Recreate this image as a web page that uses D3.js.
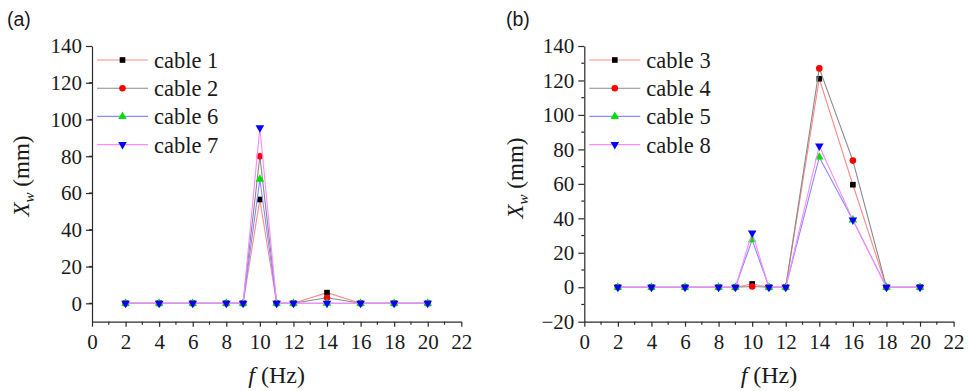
<!DOCTYPE html>
<html>
<head>
<meta charset="utf-8">
<script src="https://cdn.jsdelivr.net/npm/d3@7"></script>
</head>
<body style="margin:0;background:#fff">
<svg id="chart" width="969" height="391" font-family="'Liberation Serif', serif"></svg>
<script>
// frequencies (Hz)
const freqs = [2, 4, 6, 8, 9, 10, 11, 12, 14, 16, 18, 20];

// panel (a)
const cable1 = [0, 0, 0, 0, 0, 56.5, 0, 0, 5.8, 0, 0, 0];
const cable2 = [0, 0, 0, 0, 0, 80, 0, 0, 3, 0, 0, 0];
const cable6 = [0, 0, 0, 0, 0, 67.5, 0, 0, 0, 0, 0, 0];
const cable7 = [0, 0, 0, 0, 0, 95.5, 0, 0, 0, 0, 0, 0];

// panel (b)
const cable3 = [0, 0, 0, 0, 0, 1.9, 0, 0, 121, 59.5, 0, 0];
const cable4 = [0, 0, 0, 0, 0, 0.4, 0, 0, 127, 73.5, 0, 0];
const cable5 = [0, 0, 0, 0, 0, 27.5, 0, 0, 75.5, 39, 0, 0];
const cable8 = [0, 0, 0, 0, 0, 31.5, 0, 0, 82, 39, 0, 0];

const xTicks = d3.range(0, 23, 2);
const yTicksA = d3.range(0, 141, 20);
const yTicksB = d3.range(-20, 141, 20);

const SERIF = "'Liberation Serif', 'Times New Roman', serif";
const SANS = "'Liberation Sans', Arial, sans-serif";

// line colour / marker style per legend slot
const styles = [
  { line: "#ff8a8a", fill: "#000", shape: d3.symbolSquare, size: 32 },
  { line: "#8a8a8a", fill: "#ff0000", shape: d3.symbolCircle, size: 34 },
  { line: "#8a8aff", fill: "#00e000", shape: d3.symbolTriangle, size: 32 },
  { line: "#ff8aff", fill: "#0000ff", shape: d3.symbolTriangle, size: 32, flip: true },
];

const svg = d3.select("#chart");

function panel({ left, tag, tagX, yDomain, yTicks, yLabelX, yLabelY, series }) {
  const x = d3.scaleLinear().domain([0, 22]).range([left, left + 369.3]);
  const y = d3.scaleLinear().domain(yDomain).range([321.7, 46]);
  const g = svg.append("g");

  // ─── Axes ───
  const xAxis = g.append("g").attr("transform", `translate(0,${y.range()[0]})`);
  xAxis.call(d3.axisBottom(x).tickValues(xTicks).tickSize(5).tickSizeOuter(0));
  xAxis.append("g").selectAll("line")
    .data(d3.range(1, 22, 2))
    .join("line")
    .attr("x1", (d) => x(d)).attr("x2", (d) => x(d))
    .attr("y1", 0).attr("y2", 3);

  const yAxis = g.append("g").attr("transform", `translate(${left},0)`);
  yAxis.call(d3.axisLeft(y).tickValues(yTicks).tickSize(6).tickSizeOuter(0));
  yAxis.append("g").selectAll("line")
    .data(d3.range(yDomain[0] + 10, yDomain[1], 20))
    .join("line")
    .attr("y1", (d) => y(d)).attr("y2", (d) => y(d))
    .attr("x1", 0).attr("x2", -3);

  [xAxis, yAxis].forEach((a) => {
    a.attr("font-family", null).attr("font-size", null);
    a.selectAll("path, line").attr("stroke", "#2a2a2a").attr("stroke-width", 1.2);
    a.selectAll("text").attr("font-size", 21).attr("fill", "#1a1a1a");
  });
  xAxis.selectAll(".tick text").attr("dy", "0.92em");
  yAxis.selectAll(".tick text").attr("dx", "-0.05em");

  // axis labels
  const yl = g.append("text")
    .attr("transform", `translate(${yLabelX},${yLabelY}) rotate(-90)`)
    .attr("text-anchor", "middle")
    .attr("font-size", 23)
    .attr("fill", "#1a1a1a");
  yl.append("tspan").attr("font-style", "italic").text("X");
  yl.append("tspan").attr("font-style", "italic").attr("font-size", 15).attr("dy", 5).text("w");
  yl.append("tspan").attr("dy", -5).text(" (mm)");

  const xl = g.append("text")
    .attr("x", (x.range()[0] + x.range()[1]) / 2).attr("y", 383)
    .attr("text-anchor", "middle")
    .attr("font-size", 24)
    .attr("fill", "#1a1a1a");
  xl.append("tspan").attr("font-style", "italic").text("f");
  xl.append("tspan").text(" (Hz)");

  // ─── Series ───
  const line = d3.line().x((d) => x(d[0])).y((d) => y(d[1]));
  series.forEach((s, i) => {
    const st = styles[i];
    const pts = freqs.map((f, j) => [f, s.values[j]]);
    g.append("path")
      .datum(pts)
      .attr("d", line)
      .attr("fill", "none")
      .attr("stroke", st.line)
      .attr("stroke-width", 1.1);
    g.append("g").selectAll("path")
      .data(pts)
      .join("path")
      .attr("d", d3.symbol(st.shape, st.size))
      .attr("transform", (d) =>
        `translate(${x(d[0])},${y(d[1])})${st.flip ? " rotate(180)" : ""}`)
      .attr("fill", st.fill);
  });

  // ─── Legend ───
  const lx0 = left + 5, lx1 = left + 56;
  series.forEach((s, i) => {
    const st = styles[i];
    const ly = 60 + i * 28.2;
    g.append("line")
      .attr("x1", lx0).attr("x2", lx1).attr("y1", ly).attr("y2", ly)
      .attr("stroke", st.line).attr("stroke-width", 1.1);
    g.append("path")
      .attr("d", d3.symbol(st.shape, st.size))
      .attr("transform", `translate(${(lx0 + lx1) / 2},${ly})${st.flip ? " rotate(180)" : ""}`)
      .attr("fill", st.fill);
    g.append("text")
      .attr("x", lx1 + 6).attr("y", ly + 8)
      .attr("font-size", 22.5)
      .attr("fill", "#1a1a1a")
      .text(s.name);
  });

  g.selectAll("text").attr("font-family", SERIF);

  // panel tag (sans)
  g.append("text")
    .attr("x", tagX).attr("y", 26)
    .attr("font-family", SANS)
    .attr("font-size", 19.5)
    .attr("fill", "#1a1a1a")
    .text(tag);
}

panel({
  left: 92, tag: "(a)", tagX: 7, yDomain: [-10, 140], yTicks: yTicksA,
  yLabelX: 29, yLabelY: 176,
  series: [
    { name: "cable 1", values: cable1 },
    { name: "cable 2", values: cable2 },
    { name: "cable 6", values: cable6 },
    { name: "cable 7", values: cable7 },
  ],
});

panel({
  left: 584.3, tag: "(b)", tagX: 506, yDomain: [-20, 140], yTicks: yTicksB,
  yLabelX: 523, yLabelY: 178,
  series: [
    { name: "cable 3", values: cable3 },
    { name: "cable 4", values: cable4 },
    { name: "cable 5", values: cable5 },
    { name: "cable 8", values: cable8 },
  ],
});
</script>
</body>
</html>
